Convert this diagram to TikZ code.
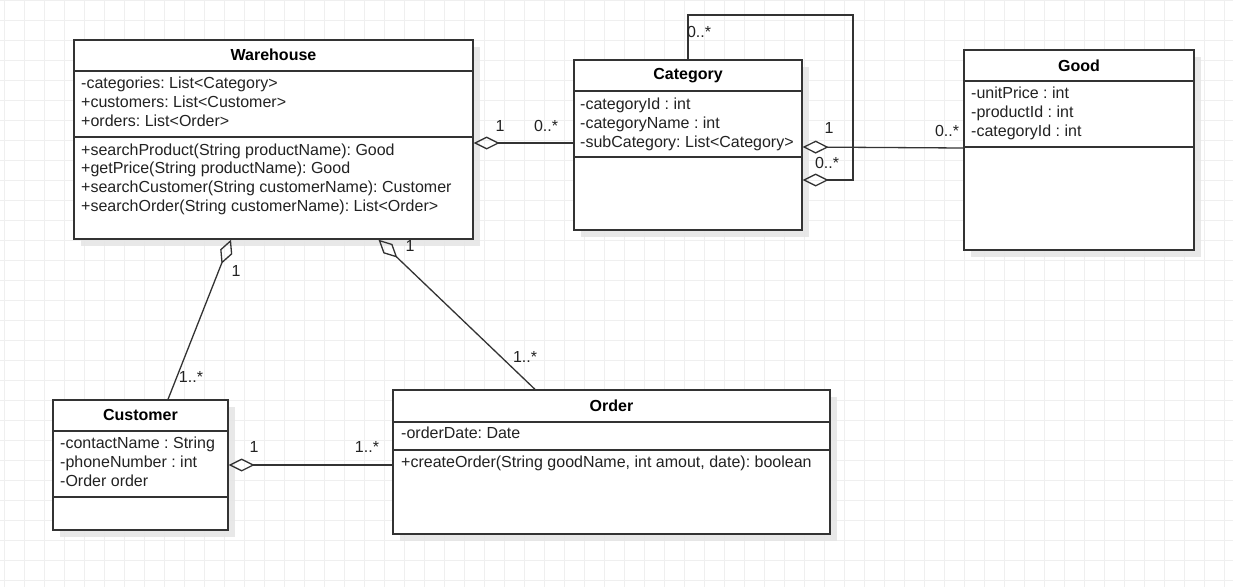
\documentclass[tikz,border=0pt]{standalone}
\usepackage{fontspec}
\setmainfont{Liberation Sans}
\usetikzlibrary{arrows.meta,shadows}
\definecolor{ink}{HTML}{222222}
\definecolor{edge}{HTML}{333333}
\definecolor{gridc}{HTML}{EFEFEF}
\definecolor{shade}{HTML}{E6E6E6}

\tikzset{
  gridline/.style={draw=gridc, line width=0.8pt},
  classbox/.style={draw=edge, fill=white, line width=1.3pt, inner sep=0pt,
    drop shadow={shadow xshift=7pt, shadow yshift=-7pt, fill=shade, opacity=0.9}},
  divider/.style={draw=edge, line width=1.3pt},
  title/.style={font=\fontsize{16}{19}\selectfont\bfseries, text=black, inner sep=0pt},
  member/.style={font=\fontsize{16}{19}\selectfont, text=ink, anchor=west, inner sep=0pt,
    text height=12pt, text depth=1pt},
  mult/.style={font=\fontsize{16}{19}\selectfont, text=ink, inner sep=0pt,
    text height=12pt, text depth=1pt},
  agg/.style={draw=edge, line width=1.3pt, -{Diamond[open, length=26pt, width=13pt]}},
}

\begin{document}
\frenchspacing
\begin{tikzpicture}[x=1pt, y=-1pt]
  \useasboundingbox (0,0) rectangle (1233,587);
  \fill[white] (0,0) rectangle (1233,587);

  % background grid
  \foreach \gx in {4,24,...,1233} \draw[gridline] (\gx,0) -- (\gx,587);
  \foreach \gy in {0,20,...,587} \draw[gridline] (0,\gy) -- (1233,\gy);

  % ---------- classes ----------
  \node[classbox, minimum width=399pt, minimum height=199pt] (wh) at (273.5,139.5) {};
  \node[classbox, minimum width=228pt, minimum height=170pt] (cat) at (688,145) {};
  \node[classbox, minimum width=230pt, minimum height=200pt] (good) at (1079,150) {};
  \node[classbox, minimum width=175pt, minimum height=130pt] (cust) at (140.5,465) {};
  \node[classbox, minimum width=437pt, minimum height=144pt] (ord) at (611.5,462) {};

  % compartment dividers
  \draw[divider] (wh.west |- 0,71) -- (wh.east |- 0,71);
  \draw[divider] (wh.west |- 0,137) -- (wh.east |- 0,137);
  \draw[divider] (cat.west |- 0,91) -- (cat.east |- 0,91);
  \draw[divider] (cat.west |- 0,157) -- (cat.east |- 0,157);
  \draw[divider] (good.west |- 0,81) -- (good.east |- 0,81);
  \draw[divider] (good.west |- 0,147) -- (good.east |- 0,147);
  \draw[divider] (cust.west |- 0,431) -- (cust.east |- 0,431);
  \draw[divider] (cust.west |- 0,497) -- (cust.east |- 0,497);
  \draw[divider] (ord.west |- 0,422) -- (ord.east |- 0,422);
  \draw[divider] (ord.west |- 0,450) -- (ord.east |- 0,450);

  % Warehouse
  \node[title] (wh-t) at (273.5,55) {Warehouse};
  \node[member] (wh-a1) at (81,83)  {-categories: List<Category>};
  \node[member] (wh-a2) at (81,102) {+customers: List<Customer>};
  \node[member] (wh-a3) at (81,121) {+orders: List<Order>};
  \node[member] (wh-m1) at (81,150) {+searchProduct(String productName): Good};
  \node[member] (wh-m2) at (81,168) {+getPrice(String productName): Good};
  \node[member] (wh-m3) at (81,187) {+searchCustomer(String customerName): Customer};
  \node[member] (wh-m4) at (81,206) {+searchOrder(String customerName): List<Order>};

  % Category
  \node[title] (cat-t) at (688,76) {Category};
  \node[member] (cat-a1) at (580,104) {-categoryId : int};
  \node[member] (cat-a2) at (580,123) {-categoryName : int};
  \node[member] (cat-a3) at (580,142) {-subCategory: List<Category>};

  % Good
  \node[title] (good-t) at (1079,66) {Good};
  \node[member] (good-a1) at (971,93)  {-unitPrice : int};
  \node[member] (good-a2) at (971,112) {-productId : int};
  \node[member] (good-a3) at (971,131) {-categoryId : int};

  % Customer
  \node[title] (cust-t) at (140.5,415) {Customer};
  \node[member] (cust-a1) at (60,443) {-contactName : String};
  \node[member] (cust-a2) at (60,462) {-phoneNumber : int};
  \node[member] (cust-a3) at (60,481) {-Order order};

  % Order
  \node[title] (ord-t) at (611.5,406) {Order};
  \node[member] (ord-a1) at (401,433) {-orderDate: Date};
  \node[member] (ord-m1) at (401,462) {+createOrder(String goodName, int amout, date): boolean};

  % ---------- associations ----------
  \draw[agg] ([yshift=2pt]cat.west) -- ([yshift=2pt]cat.west -| wh.east);
  \draw[agg] ([yshift=2pt]good.west) -- ([yshift=-2pt]cat.east);
  \coordinate (loopTop) at (853,15);
  \coordinate (loopBot) at (853,180);
  \draw[agg] (cat.north) |- (loopTop) -- (loopBot) -- (loopBot -| cat.east);
  \draw[agg] ([xshift=27.5pt]cust.north) -- ([xshift=-42.5pt]wh.south);
  \draw[agg] ([xshift=-76.5pt]ord.north) -- ([xshift=105pt]wh.south);
  \draw[agg] (ord.west |- cust.east) -- (cust.east);

  % multiplicities
  \node[mult] (m-whcat-1) at (500,126) {1};
  \node[mult] (m-whcat-n) at (546,126) {0..*};
  \node[mult] (m-loop-top) at (699,32) {0..*};
  \node[mult] (m-catgood-1) at (829,128) {1};
  \node[mult] (m-loop-bot) at (827,163) {0..*};
  \node[mult] (m-catgood-n) at (947,131) {0..*};
  \node[mult] (m-whcust-1) at (236,271) {1};
  \node[mult] (m-whcust-n) at (191,377) {1..*};
  \node[mult] (m-whord-1) at (410,246) {1};
  \node[mult] (m-whord-n) at (525,357) {1..*};
  \node[mult] (m-custord-1) at (254,447) {1};
  \node[mult] (m-custord-n) at (367,447) {1..*};
\end{tikzpicture}
\end{document}
